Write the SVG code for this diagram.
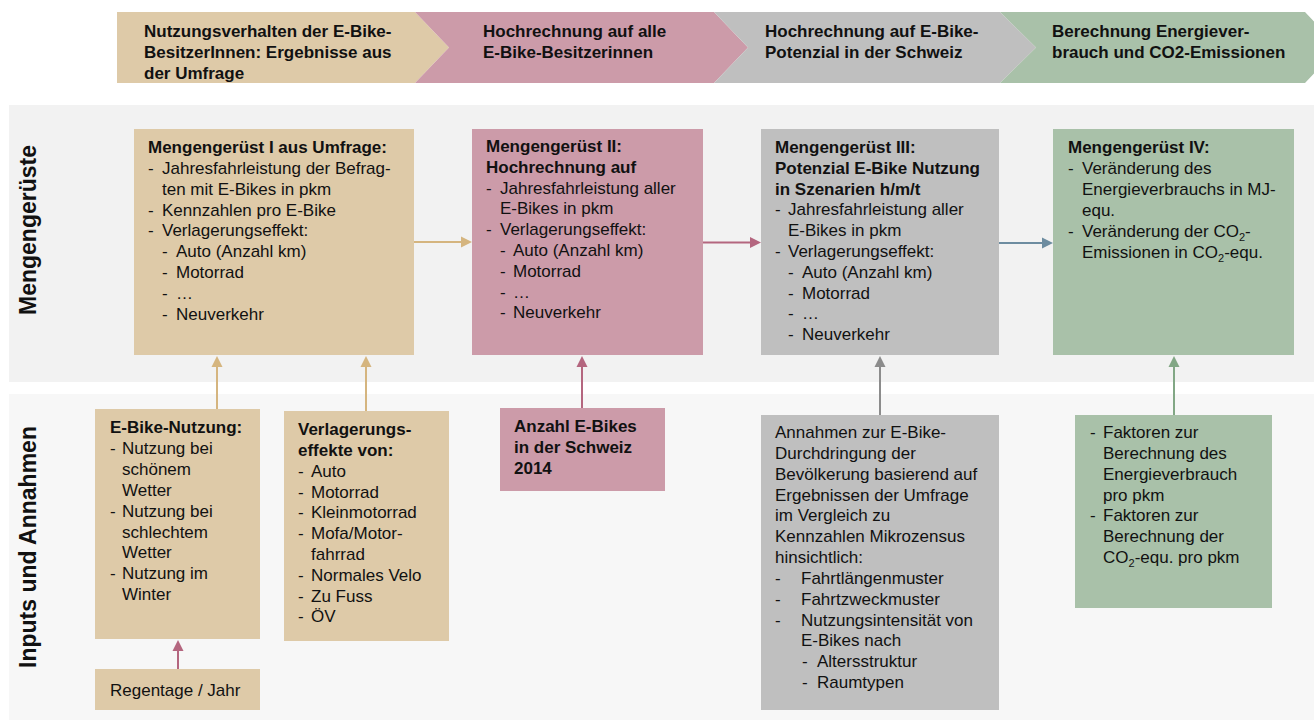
<svg xmlns="http://www.w3.org/2000/svg" width="1314" height="720" viewBox="0 0 1314 720">
<style>
  text { font-family: "Liberation Sans", Arial, sans-serif; font-size: 17px; fill: #111; }
  .b { font-weight: bold; }
  .lbl { font-weight: bold; font-size: 23px; text-anchor: middle; }
  .tan { fill: #decaa8; }
  .pink { fill: #cc9ba9; }
  .gray { fill: #bfbfbf; }
  .green { fill: #a9c1a9; }
  .ln { stroke-width: 2; fill: none; }
  .sub { font-size: 11px; }
</style>
<defs>
  <marker id="aTan" viewBox="0 0 12 12" markerWidth="12" markerHeight="12" refX="1" refY="6" orient="auto" markerUnits="userSpaceOnUse"><path d="M0,0.5 L11,6 L0,11.5 z" fill="#d5b57f"/></marker>
  <marker id="aMauve" viewBox="0 0 12 12" markerWidth="12" markerHeight="12" refX="1" refY="6" orient="auto" markerUnits="userSpaceOnUse"><path d="M0,0.5 L11,6 L0,11.5 z" fill="#b4667f"/></marker>
  <marker id="aBlue" viewBox="0 0 12 12" markerWidth="12" markerHeight="12" refX="1" refY="6" orient="auto" markerUnits="userSpaceOnUse"><path d="M0,0.5 L11,6 L0,11.5 z" fill="#6d8ca0"/></marker>
  <marker id="aGray" viewBox="0 0 12 12" markerWidth="12" markerHeight="12" refX="1" refY="6" orient="auto" markerUnits="userSpaceOnUse"><path d="M0,0.5 L11,6 L0,11.5 z" fill="#8c8c8c"/></marker>
  <marker id="aGreen" viewBox="0 0 12 12" markerWidth="12" markerHeight="12" refX="1" refY="6" orient="auto" markerUnits="userSpaceOnUse"><path d="M0,0.5 L11,6 L0,11.5 z" fill="#82a785"/></marker>
</defs>
<rect width="1314" height="720" fill="#ffffff"/>

<!-- bands -->
<g id="bands">
  <rect x="9" y="105" width="1305" height="277" fill="#f2f2f2"/>
  <rect x="9" y="394" width="1305" height="326" fill="#f7f7f7"/>
  <text class="lbl" transform="translate(36,230) rotate(-90)">Mengengerüste</text>
  <text class="lbl" transform="translate(36,547) rotate(-90)">Inputs und Annahmen</text>
</g>

<!-- chevrons -->
<g id="chev1">
  <polygon class="tan" points="117,12 415,12 449,47.5 415,83 117,83"/>
  <text class="b"><tspan x="144" y="37">Nutzungsverhalten der E-Bike-</tspan><tspan x="144" y="58">BesitzerInnen: Ergebnisse aus</tspan><tspan x="144" y="79">der Umfrage</tspan></text>
</g>
<g id="chev2">
  <polygon class="pink" points="415,12 714,12 748,47.5 714,83 415,83 449,47.5"/>
  <text class="b"><tspan x="483" y="37">Hochrechnung auf alle</tspan><tspan x="483" y="58">E-Bike-Besitzerinnen</tspan></text>
</g>
<g id="chev3">
  <polygon class="gray" points="714,12 1000,12 1036,47.5 1000,83 714,83 748,47.5"/>
  <text class="b"><tspan x="765" y="37">Hochrechnung auf E-Bike-</tspan><tspan x="765" y="58">Potenzial in der Schweiz</tspan></text>
</g>
<g id="chev4">
  <polygon class="green" points="1000,12 1305,12 1339,47.5 1305,83 1000,83 1036,47.5"/>
  <text class="b"><tspan x="1052" y="37">Berechnung Energiever-</tspan><tspan x="1052" y="58">brauch und CO2-Emissionen</tspan></text>
</g>

<!-- connectors -->
<g id="connectors">
  <line class="ln" x1="414" y1="242" x2="462" y2="242" stroke="#d5b57f" marker-end="url(#aTan)"/>
  <line class="ln" x1="703" y1="242.5" x2="751" y2="242.5" stroke="#b4667f" marker-end="url(#aMauve)"/>
  <line class="ln" x1="999" y1="243" x2="1043" y2="243" stroke="#6d8ca0" marker-end="url(#aBlue)"/>
  <line class="ln" x1="217" y1="409" x2="217" y2="366" stroke="#d5b57f" marker-end="url(#aTan)"/>
  <line class="ln" x1="366" y1="411" x2="366" y2="366" stroke="#d5b57f" marker-end="url(#aTan)"/>
  <line class="ln" x1="178" y1="669" x2="178" y2="650" stroke="#b4667f" marker-end="url(#aMauve)"/>
  <line class="ln" x1="582" y1="408" x2="582" y2="366" stroke="#b4667f" marker-end="url(#aMauve)"/>
  <line class="ln" x1="880" y1="415" x2="880" y2="366" stroke="#8c8c8c" marker-end="url(#aGray)"/>
  <line class="ln" x1="1174" y1="415" x2="1174" y2="366" stroke="#82a785" marker-end="url(#aGreen)"/>
</g>

<!-- Mengengerüst I -->
<g id="mg1">
  <rect class="tan" x="134" y="129" width="280" height="226"/>
  <text class="b" x="148" y="153">Mengengerüst I aus Umfrage:</text>
  <text>
    <tspan x="148" y="174">-</tspan><tspan x="162" y="174">Jahresfahrleistung der Befrag-</tspan>
    <tspan x="162" y="195">ten mit E-Bikes in pkm</tspan>
    <tspan x="148" y="215.5">-</tspan><tspan x="162" y="215.5">Kennzahlen pro E-Bike</tspan>
    <tspan x="148" y="236">-</tspan><tspan x="162" y="236">Verlagerungseffekt:</tspan>
    <tspan x="162" y="257">-</tspan><tspan x="176" y="257">Auto (Anzahl km)</tspan>
    <tspan x="162" y="278">-</tspan><tspan x="176" y="278">Motorrad</tspan>
    <tspan x="162" y="299">-</tspan><tspan x="176" y="299">…</tspan>
    <tspan x="162" y="320">-</tspan><tspan x="176" y="320">Neuverkehr</tspan>
  </text>
</g>

<!-- Mengengerüst II -->
<g id="mg2">
  <rect class="pink" x="472" y="129" width="231" height="226"/>
  <text class="b"><tspan x="486" y="152">Mengengerüst II:</tspan><tspan x="486" y="173">Hochrechnung auf</tspan></text>
  <text>
    <tspan x="486" y="193.5">-</tspan><tspan x="500" y="193.5">Jahresfahrleistung aller</tspan>
    <tspan x="500" y="214">E-Bikes in pkm</tspan>
    <tspan x="486" y="235">-</tspan><tspan x="500" y="235">Verlagerungseffekt:</tspan>
    <tspan x="500" y="256">-</tspan><tspan x="513" y="256">Auto (Anzahl km)</tspan>
    <tspan x="500" y="277">-</tspan><tspan x="513" y="277">Motorrad</tspan>
    <tspan x="500" y="297.5">-</tspan><tspan x="513" y="297.5">…</tspan>
    <tspan x="500" y="318">-</tspan><tspan x="513" y="318">Neuverkehr</tspan>
  </text>
</g>

<!-- Mengengerüst III -->
<g id="mg3">
  <rect class="gray" x="761" y="129" width="238" height="226"/>
  <text class="b"><tspan x="775" y="153">Mengengerüst III:</tspan><tspan x="775" y="174">Potenzial E-Bike Nutzung</tspan><tspan x="775" y="194.5">in Szenarien h/m/t</tspan></text>
  <text>
    <tspan x="775" y="215">-</tspan><tspan x="788" y="215">Jahresfahrleistung aller</tspan>
    <tspan x="788" y="236">E-Bikes in pkm</tspan>
    <tspan x="775" y="257">-</tspan><tspan x="788" y="257">Verlagerungseffekt:</tspan>
    <tspan x="788" y="278">-</tspan><tspan x="802" y="278">Auto (Anzahl km)</tspan>
    <tspan x="788" y="298.5">-</tspan><tspan x="802" y="298.5">Motorrad</tspan>
    <tspan x="788" y="319">-</tspan><tspan x="802" y="319">…</tspan>
    <tspan x="788" y="340">-</tspan><tspan x="802" y="340">Neuverkehr</tspan>
  </text>
</g>

<!-- Mengengerüst IV -->
<g id="mg4">
  <rect class="green" x="1053" y="129" width="241" height="226"/>
  <text class="b" x="1068" y="153">Mengengerüst IV:</text>
  <text>
    <tspan x="1068" y="174">-</tspan><tspan x="1082" y="174">Veränderung des</tspan>
    <tspan x="1082" y="195">Energieverbrauchs in MJ-</tspan>
    <tspan x="1082" y="216">equ.</tspan>
    <tspan x="1068" y="237">-</tspan><tspan x="1082" y="237">Veränderung der CO</tspan><tspan class="sub" dy="4">2</tspan><tspan dy="-4">-</tspan>
    <tspan x="1082" y="258">Emissionen in CO</tspan><tspan class="sub" dy="4">2</tspan><tspan dy="-4">-equ.</tspan>
  </text>
</g>

<!-- E-Bike-Nutzung -->
<g id="ebn">
  <rect class="tan" x="95" y="409" width="165" height="230"/>
  <text class="b" x="110" y="433">E-Bike-Nutzung:</text>
  <text>
    <tspan x="110" y="454">-</tspan><tspan x="122" y="454">Nutzung bei</tspan>
    <tspan x="122" y="475">schönem</tspan>
    <tspan x="122" y="496">Wetter</tspan>
    <tspan x="110" y="517">-</tspan><tspan x="122" y="517">Nutzung bei</tspan>
    <tspan x="122" y="537.5">schlechtem</tspan>
    <tspan x="122" y="558">Wetter</tspan>
    <tspan x="110" y="579">-</tspan><tspan x="122" y="579">Nutzung im</tspan>
    <tspan x="122" y="600">Winter</tspan>
  </text>
</g>

<!-- Regentage -->
<g id="regen">
  <rect class="tan" x="95" y="669" width="165" height="41"/>
  <text x="110" y="696">Regentage / Jahr</text>
</g>

<!-- Verlagerungseffekte -->
<g id="verl">
  <rect class="tan" x="284" y="411" width="165" height="230"/>
  <text class="b"><tspan x="298" y="435">Verlagerungs-</tspan><tspan x="298" y="456">effekte von:</tspan></text>
  <text>
    <tspan x="298" y="477">-</tspan><tspan x="311" y="477">Auto</tspan>
    <tspan x="298" y="497.5">-</tspan><tspan x="311" y="497.5">Motorrad</tspan>
    <tspan x="298" y="518">-</tspan><tspan x="311" y="518">Kleinmotorrad</tspan>
    <tspan x="298" y="539">-</tspan><tspan x="311" y="539">Mofa/Motor-</tspan>
    <tspan x="311" y="560">fahrrad</tspan>
    <tspan x="298" y="581">-</tspan><tspan x="311" y="581">Normales Velo</tspan>
    <tspan x="298" y="601.5">-</tspan><tspan x="311" y="601.5">Zu Fuss</tspan>
    <tspan x="298" y="622">-</tspan><tspan x="311" y="622">ÖV</tspan>
  </text>
</g>

<!-- Anzahl E-Bikes -->
<g id="anzahl">
  <rect class="pink" x="500" y="408" width="165" height="83"/>
  <text class="b"><tspan x="514" y="432">Anzahl E-Bikes</tspan><tspan x="514" y="453">in der Schweiz</tspan><tspan x="514" y="474">2014</tspan></text>
</g>

<!-- Annahmen -->
<g id="annahmen">
  <rect class="gray" x="761" y="415" width="238" height="295"/>
  <text>
    <tspan x="775" y="438">Annahmen zur E-Bike-</tspan>
    <tspan x="775" y="459">Durchdringung der</tspan>
    <tspan x="775" y="480">Bevölkerung basierend auf</tspan>
    <tspan x="775" y="500.5">Ergebnissen der Umfrage</tspan>
    <tspan x="775" y="521">im Vergleich zu</tspan>
    <tspan x="775" y="542">Kennzahlen Mikrozensus</tspan>
    <tspan x="775" y="563">hinsichtlich:</tspan>
    <tspan x="775" y="584">-</tspan><tspan x="801" y="584">Fahrtlängenmuster</tspan>
    <tspan x="775" y="605">-</tspan><tspan x="801" y="605">Fahrtzweckmuster</tspan>
    <tspan x="775" y="625.5">-</tspan><tspan x="801" y="625.5">Nutzungsintensität von</tspan>
    <tspan x="801" y="646">E-Bikes nach</tspan>
    <tspan x="802" y="667">-</tspan><tspan x="817" y="667">Altersstruktur</tspan>
    <tspan x="802" y="688">-</tspan><tspan x="817" y="688">Raumtypen</tspan>
  </text>
</g>

<!-- Faktoren -->
<g id="faktoren">
  <rect class="green" x="1075" y="415" width="197" height="193"/>
  <text>
    <tspan x="1090" y="438">-</tspan><tspan x="1103" y="438">Faktoren zur</tspan>
    <tspan x="1103" y="459">Berechnung des</tspan>
    <tspan x="1103" y="480">Energieverbrauch</tspan>
    <tspan x="1103" y="500.5">pro pkm</tspan>
    <tspan x="1090" y="521">-</tspan><tspan x="1103" y="521">Faktoren zur</tspan>
    <tspan x="1103" y="542">Berechnung der</tspan>
    <tspan x="1103" y="563">CO</tspan><tspan class="sub" dy="4">2</tspan><tspan dy="-4">-equ. pro pkm</tspan>
  </text>
</g>
</svg>
